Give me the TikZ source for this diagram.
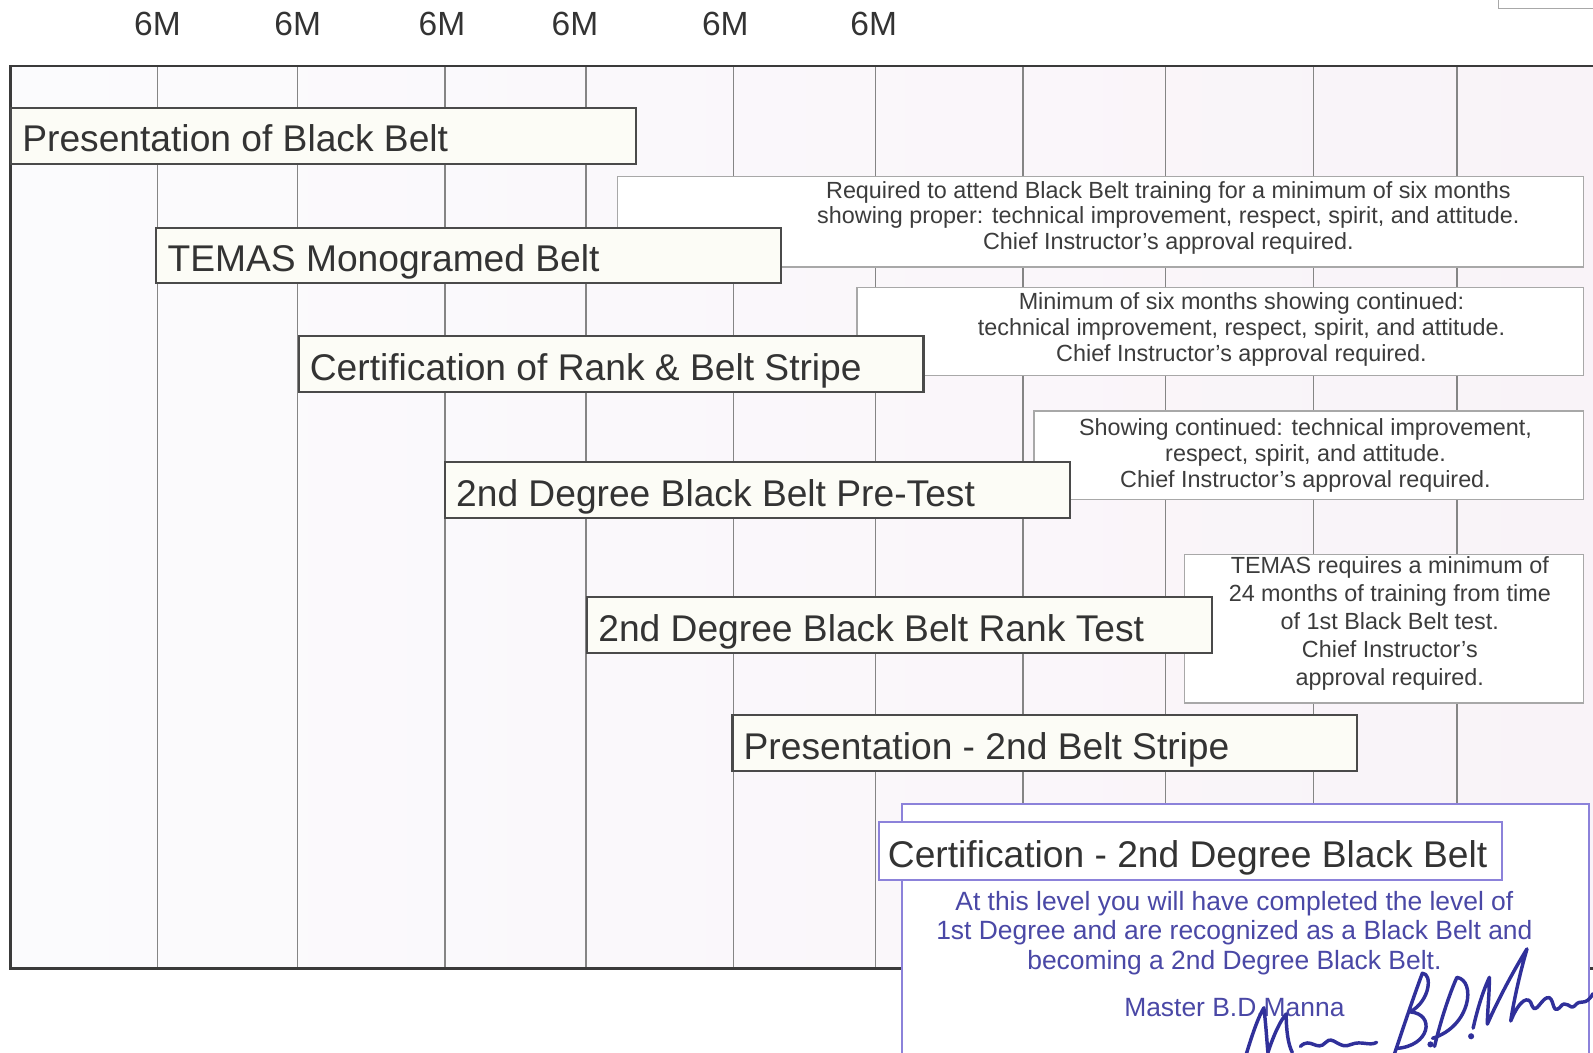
\documentclass[tikz,border=0pt]{standalone}
\usepackage{fontspec}
\setmainfont{Liberation Sans}
\definecolor{gridbgA}{HTML}{FBFBFD}
\definecolor{gridbgB}{HTML}{F9F3F8}
\definecolor{frame}{HTML}{3A3A3A}
\definecolor{gridline}{HTML}{858585}
\definecolor{boxline}{HTML}{4A4A4A}
\definecolor{boxfill}{HTML}{FCFCF6}
\definecolor{txt}{HTML}{333333}
\definecolor{desctxt}{HTML}{3C3C3C}
\definecolor{descline}{HTML}{A8A8A8}
\definecolor{bluetxt}{HTML}{4A48A6}
\definecolor{blueline}{HTML}{8C82DA}
\definecolor{sig}{HTML}{30309A}
\newcommand\boxtxt[1]{\makebox[593pt][l]{#1}}
\begin{document}
\begin{tikzpicture}[x=1pt,y=-1pt,
  lbl/.style={text=txt, font=\fontsize{33}{36}\selectfont, inner sep=0pt},
  mainbox/.style={draw=boxline, line width=2pt, fill=boxfill, anchor=north west,
    minimum height=55pt, inner xsep=11pt, inner ysep=0pt,
    text=txt, font=\fontsize{36.6}{40}\selectfont, text height=32pt, text depth=0pt},
  descbox/.style={draw=descline, line width=1.5pt, fill=white, anchor=north west, inner sep=0pt},
  desctext/.style={align=center, text=desctxt, font=\fontsize{23}{25.5}\selectfont, inner sep=0pt},
  bluetext/.style={align=center, text=bluetxt, font=\fontsize{26}{29.5}\selectfont, inner sep=0pt},
  sigline/.style={draw=sig, line width=3.4pt, line cap=round, line join=round}
]
\useasboundingbox (0,0) rectangle (1568,1036);

% top-right tab
\node[draw=descline, line width=1.2pt, fill=white, anchor=north west, minimum width=110pt, minimum height=14pt, inner sep=0pt] (tab) at (1474,-6) {};

% month labels
\foreach \x/\n in {155/m1,293/m2,435/m3,566/m4,714/m5,860/m6}
  \node[lbl] (\n) at (\x,24) {6M};

% grid
\fill[left color=gridbgA, right color=gridbgB] (10,65) rectangle (1575,953);
\foreach \x in {155,293,438,577,722,862,1007,1147,1293,1434}
  \draw[gridline, line width=1.4pt] (\x,65) -- (\x,953);
\draw[frame, line width=2.8pt] (1575,65) -- (10,65) -- (10,953) -- (1575,953);

% description boxes
\node[descbox, minimum width=951pt, minimum height=89pt] (dA) at (607,173) {};
\node[descbox, minimum width=715pt, minimum height=87pt] (dB) at (843,282) {};
\node[descbox, minimum width=541pt, minimum height=87pt] (dC) at (1017,404) {};
\node[descbox, minimum width=393pt, minimum height=146pt] (dD) at (1165,545) {};
\node[draw=blueline, line width=2pt, fill=white, anchor=north west, inner sep=0pt,
      minimum width=676pt, minimum height=300pt] (dE) at (887,790) {};

% main boxes
\node[mainbox] (b1) at (10,105) {\boxtxt{Presentation of Black Belt}};
\node[mainbox] (b2) at (153,223) {\boxtxt{TEMAS Monogramed Belt}};
\node[mainbox] (b3) at (293,330) {\boxtxt{Certification of Rank \& Belt Stripe}};
\node[mainbox] (b4) at (437,454) {\boxtxt{2nd Degree Black Belt Pre-Test}};
\node[mainbox] (b5) at (577,587) {\boxtxt{2nd Degree Black Belt Rank Test}};
\node[mainbox] (b6) at (720,703) {\boxtxt{Presentation - 2nd Belt Stripe}};
\node[mainbox, draw=blueline, fill=white, minimum height=57pt, inner xsep=9pt] (b7) at (864,808) {\makebox[595pt][l]{Certification - 2nd Degree Black Belt}};

% description texts
\node[desctext] (tA) at (1150,214.5) {Required to attend Black Belt training for a minimum of six months\\showing proper: technical improvement, respect, spirit, and attitude.\\Chief Instructor’s approval required.};
\node[desctext] (tB) at (1222,324.5) {Minimum of six months showing continued:\\technical improvement, respect, spirit, and attitude.\\Chief Instructor’s approval required.};
\node[desctext] (tC) at (1285,448.5) {Showing continued: technical improvement,\\respect, spirit, and attitude.\\Chief Instructor’s approval required.};
\node[desctext, font=\fontsize{23}{27.5}\selectfont] (tD) at (1368,614) {TEMAS requires a minimum of\\24 months of training from time\\of 1st Black Belt test.\\Chief Instructor’s\\approval required.};

\node[bluetext] (tE) at (1215,918.5) {At this level you will have completed the level of\\1st Degree and are recognized as a Black Belt and\\becoming a 2nd Degree Black Belt.};
\node[bluetext] (sign) at (1215,992) {Master B.D.Manna};

% signature
\draw[sigline] (1226,1040) .. controls (1232,1020) and (1238,1002) .. (1244,992)
  .. controls (1246,1008) and (1247,1025) .. (1248,1036)
  .. controls (1254,1018) and (1260,1005) .. (1266,998)
  .. controls (1266,1015) and (1268,1028) .. (1272,1036);
\draw[sigline] (1280,1030) .. controls (1290,1020) and (1296,1036) .. (1305,1026)
  .. controls (1312,1018) and (1318,1034) .. (1330,1028)
  .. controls (1340,1024) and (1348,1030) .. (1355,1026);
\draw[sigline] (1370,1045) .. controls (1380,1015) and (1390,985) .. (1400,958)
  .. controls (1410,958) and (1408,985) .. (1388,996)
  .. controls (1413,998) and (1408,1030) .. (1374,1032);
\fill[sig] (1408,1028) circle (3pt);
\draw[sigline] (1412,1030) .. controls (1418,1005) and (1426,980) .. (1434,962)
  .. controls (1453,965) and (1448,1010) .. (1410,1022);
\fill[sig] (1448,1020) circle (3pt);
\draw[sigline] (1450,1012) .. controls (1455,990) and (1460,975) .. (1466,962)
  .. controls (1466,980) and (1464,995) .. (1464,1008)
  .. controls (1474,985) and (1490,955) .. (1503,934)
  .. controls (1496,958) and (1490,985) .. (1487,1005)
  .. controls (1495,985) and (1505,978) .. (1508,990)
  .. controls (1512,1000) and (1518,980) .. (1525,982)
  .. controls (1530,985) and (1528,998) .. (1535,992)
  .. controls (1542,982) and (1545,995) .. (1550,990)
  .. controls (1556,982) and (1560,992) .. (1568,978);
\end{tikzpicture}
\end{document}
